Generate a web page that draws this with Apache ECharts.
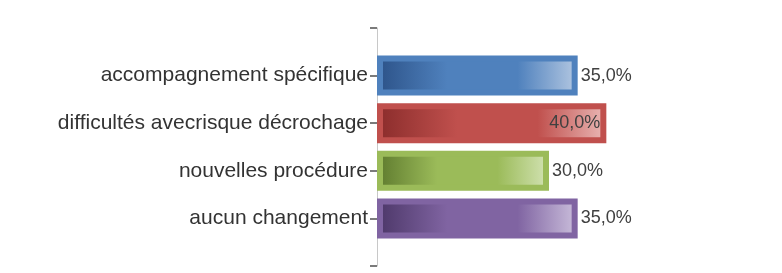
<!DOCTYPE html>
<html>
<head>
<meta charset="utf-8">
<script src="https://cdn.jsdelivr.net/npm/echarts@6/dist/echarts.min.js"></script>
<style>
  html, body { margin: 0; padding: 0; background: #fff; }
  #chart { width: 782px; height: 273px; }
</style>
</head>
<body>
<div id="chart"></div>
<script>
// data
const categories = ['accompagnement spécifique', 'difficultés avecrisque décrochage', 'nouvelles procédure', 'aucun changement']
const values = [35, 40, 30, 35]
// border colour, dark end, light end of each bar
const barColors = [
    ['#4f81bd', '#2c5288', '#b4c8e2'],
    ['#c0504d', '#8a2c2b', '#eab8b6'],
    ['#9bbb59', '#5e7a2e', '#d3e3b4'],
    ['#8064a2', '#4c3768', '#cbbfdc']
]

// empty slot above and below, like the original axis
const axisCats = [''].concat(categories, [''])

const seriesData = ['-']
values.forEach((v, i) => {
    const c = barColors[i]
    seriesData.push({
        value: v,
        itemStyle: {
            borderColor: c[0],
            borderWidth: 6,
            color: new echarts.graphic.LinearGradient(0, 0, 1, 0, [
                { offset: 0, color: c[1] },
                { offset: 0.35, color: c[0] },
                { offset: 0.7, color: c[0] },
                { offset: 1, color: c[2] }
            ])
        },
        // the longest bar keeps its label inside
        label: v === Math.max(...values) ? { position: 'insideRight', distance: 6 } : {}
    })
})
seriesData.push('-')

const chart = echarts.init(document.getElementById('chart'))
chart.setOption({
    animation: false,
    grid: { left: 377, right: 61, top: 28, bottom: 7, containLabel: false },
    xAxis: {
        type: 'value',
        min: 0,
        max: 60,
        show: false
    },
    yAxis: {
        type: 'category',
        data: axisCats,
        inverse: true,
        boundaryGap: false,
        axisLine: { show: true, lineStyle: { color: '#c8c8c8', width: 1 } },
        axisTick: { show: true, length: 7, lineStyle: { color: '#505050', width: 1.5 } },
        axisLabel: {
            margin: 9,
            color: '#333333',
            fontSize: 21,
            fontFamily: 'Liberation Sans, Arial, sans-serif'
        },
        splitLine: { show: false }
    },
    series: [{
        type: 'bar',
        barWidth: 40,
        data: seriesData,
        label: {
            show: true,
            position: 'right',
            distance: 3,
            color: '#404040',
            fontSize: 18,
            fontFamily: 'Liberation Sans, Arial, sans-serif',
            formatter: (p) => p.value.toFixed(1).replace('.', ',') + '%'
        }
    }]
})
</script>
</body>
</html>
